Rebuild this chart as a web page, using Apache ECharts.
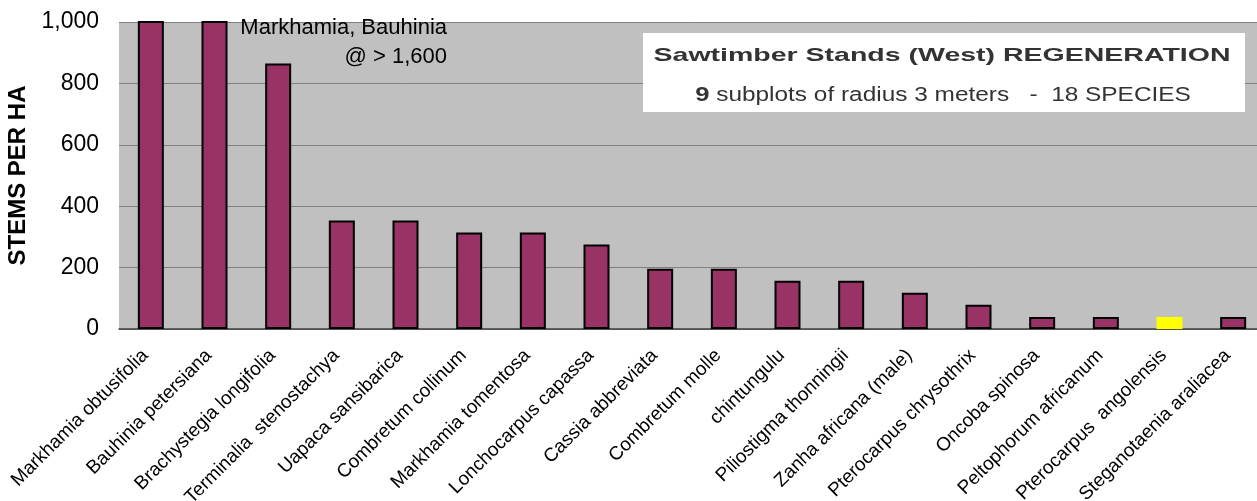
<!DOCTYPE html>
<html>
<head>
<meta charset="utf-8">
<script src="https://cdn.jsdelivr.net/npm/echarts@6/dist/echarts.min.js"></script>
<style>html,body{margin:0;padding:0;background:#fff}#c{width:1257px;height:501px}</style>
</head>
<body>
<div id="c"></div>
<script>
const categories = ["Markhamia obtusifolia","Bauhinia petersiana","Brachystegia longifolia","Terminalia  stenostachya","Uapaca sansibarica","Combretum collinum","Markhamia tomentosa","Lonchocarpus capassa","Cassia abbreviata","Combretum molle","chintungulu","Piliostigma thonningii","Zanha africana (male)","Pterocarpus chrysothrix","Oncoba spinosa","Peltophorum africanum","Pterocarpus  angolensis","Steganotaenia araliacea"];
const stemsPerHa = [1650,1611,864.6,353.7,353.7,314.4,314.4,275.1,196.5,196.5,157.2,157.2,117.9,78.6,39.3,39.3,39.3,39.3];
const highlighted = ["Pterocarpus  angolensis"];
const yTicks = [0,200,400,600,800,1000];

const F = 'Liberation Sans, Arial, sans-serif';
const chart = echarts.init(document.getElementById('c'));
chart.setOption({
  animation:false,
  grid:{left:119,right:-8,top:22,bottom:172,containLabel:false,outerBoundsMode:'none'},
  xAxis:{
    type:'category', data:categories,
    axisTick:{show:false},
    axisLine:{lineStyle:{color:'#404040',width:1.5}},
    axisLabel:{rotate:45,interval:0,fontFamily:F,fontSize:19,color:'#000',margin:18,padding:[0,8,0,0]}
  },
  yAxis:{
    type:'value', min:yTicks[0], max:yTicks[yTicks.length-1], interval:200,
    name:'STEMS PER HA', nameLocation:'middle', nameGap:80,
    nameTextStyle:{fontFamily:F,fontSize:24,fontWeight:'bold',color:'#000'},
    axisLine:{show:false}, axisTick:{show:false},
    axisLabel:{fontFamily:F,fontSize:23,color:'#000',margin:20,
      formatter:v=>v.toLocaleString('en-US')},
    splitLine:{lineStyle:{color:'#808080',width:1}},
    splitArea:{show:false}
  },
  graphic:[
    {type:'rect',shape:{x:119,y:22,width:1146,height:307},style:{fill:'#C0C0C0'},z:-10,silent:true},
    {type:'rect',shape:{x:643,y:33,width:602,height:79},style:{fill:'#fff'},z:100},
    {type:'text',x:942,y:56,scaleX:1.5,z:101,style:{text:'Sawtimber Stands (West) REGENERATION',font:'bold 19px '+F,fill:'#333',align:'center',verticalAlign:'middle'}},
    {type:'text',x:943,y:95,scaleX:1.22,z:101,style:{text:'{b|9} subplots of radius 3 meters   -  18 SPECIES',font:'20px '+F,fill:'#333',align:'center',verticalAlign:'middle',
      rich:{b:{font:'bold 21px '+F,fill:'#333'}}}},
    {type:'text',x:447,y:28,z:101,style:{text:'Markhamia, Bauhinia',font:'22px '+F,fill:'#000',align:'right',verticalAlign:'middle'}},
    {type:'text',x:447,y:57,z:101,style:{text:'@ > 1,600',font:'22px '+F,fill:'#000',align:'right',verticalAlign:'middle'}}
  ],
  series:[{
    type:'bar', barWidth:26, clip:true,
    data:categories.map((c,i)=>highlighted.includes(c)
      ? {value:stemsPerHa[i],itemStyle:{color:'#FFFF00',borderWidth:0}}
      : stemsPerHa[i]),
    itemStyle:{color:'#993366',borderColor:'#000',borderWidth:2}
  }]
});
</script>
</body>
</html>
